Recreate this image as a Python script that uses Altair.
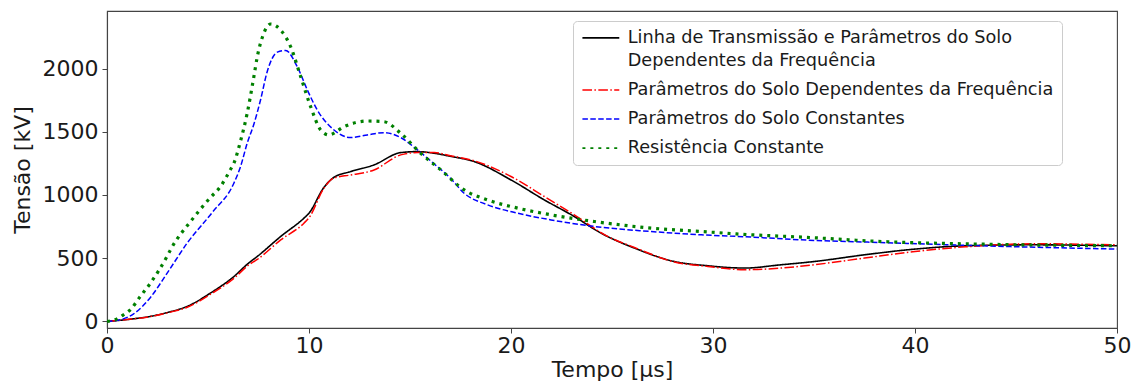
import altair as alt
import pandas as pd

S_BLACK = "Linha de Transmissão e Parâmetros do Solo Dependentes da Frequência"
S_RED = "Parâmetros do Solo Dependentes da Frequência"
S_BLUE = "Parâmetros do Solo Constantes"
S_GREEN = "Resistência Constante"

black_x = [0, 1, 2.15, 3.1, 3.97, 5.12, 6.28, 7.0, 7.44, 8.6, 9.75, 10.0, 10.74, 11.24, 12.06, 13.22, 14.54, 15.37, 16.2, 17.0, 18.18, 20.0, 21.65, 23.13, 24.46, 26.11, 28.09, 29.75, 31.56, 33.37, 35.03, 37.51, 39.99, 42.47, 45.78, 50]
black_y = [0, 15, 40, 75, 119, 224, 355, 460, 514, 672, 817, 856, 1060, 1140, 1185, 1238, 1335, 1343, 1330, 1306, 1264, 1119, 961, 830, 698, 580, 474, 440, 422, 448, 474, 527, 572, 598, 606, 598]

red_x = [0, 1, 2.15, 3.1, 3.97, 5.12, 6.28, 7.0, 7.44, 8.6, 9.75, 10.0, 10.74, 11.24, 12.06, 13.22, 14.54, 15.37, 16.2, 17.0, 18.18, 20.0, 21.65, 23.13, 24.79, 26.11, 28.09, 29.75, 31.56, 33.37, 35.0, 37.5, 40.0, 42.5, 45.8, 50]
red_y = [0, 15, 38, 72, 112, 215, 340, 445, 490, 645, 777, 820, 1054, 1135, 1158, 1198, 1317, 1335, 1335, 1310, 1270, 1146, 988, 843, 672, 585, 470, 435, 409, 422, 448, 501, 553, 590, 614, 606]

blue_x = [0, 0.7, 1.32, 2.15, 2.97, 3.97, 5.2, 6.28, 6.61, 6.94, 7.27, 7.6, 7.93, 8.43, 8.84, 9.42, 9.92, 10.41, 11.24, 12.06, 12.89, 13.71, 14.54, 15.37, 16.2, 17.0, 17.68, 18.84, 20.33, 21.98, 24.13, 26.94, 29.42, 31.9, 34.38, 38.3, 43.3, 50]
blue_y = [0, 15, 60, 190, 380, 620, 860, 1093, 1224, 1409, 1560, 1751, 1975, 2130, 2143, 2014, 1830, 1672, 1514, 1454, 1475, 1493, 1454, 1356, 1245, 1133, 1014, 922, 856, 803, 751, 711, 685, 667, 645, 624, 598, 572]

green_x = [0, 0.5, 0.82, 1.15, 1.65, 2.15, 2.97, 3.14, 4.2, 5.12, 5.62, 6.1, 6.28, 6.6, 6.94, 7.27, 7.44, 7.76, 8.1, 8.6, 9.09, 9.59, 10.08, 10.58, 10.99, 11.73, 12.89, 13.7, 14.54, 15.53, 16.53, 17.68, 18.84, 20.33, 21.98, 24.13, 26.94, 29.42, 31.9, 34.38, 38.34, 43.3, 50]
green_y = [0, 20, 53, 92, 198, 303, 514, 566, 803, 980, 1067, 1198, 1251, 1420, 1646, 1935, 2093, 2278, 2352, 2304, 2173, 1935, 1699, 1514, 1475, 1540, 1585, 1580, 1488, 1330, 1198, 1040, 961, 896, 843, 790, 738, 711, 685, 667, 632, 611, 598]

series = [
    (S_BLACK, black_x, black_y),
    (S_RED, red_x, red_y),
    (S_BLUE, blue_x, blue_y),
    (S_GREEN, green_x, green_y),
]
rows = []
for name, xs, ys in series:
    for x, y in zip(xs, ys):
        rows.append({"serie": name, "t": x, "v": y})
df = pd.DataFrame(rows)

order = [S_BLACK, S_RED, S_BLUE, S_GREEN]
colors = ["#000000", "#ff0000", "#0000ff", "#008000"]
dashes = [[1, 0], [9.6, 2.4, 1.5, 2.4], [5.5, 2.4], [3, 4.95]]
widths = [1.6, 1.5, 1.5, 3.2]

label_expr = (
    "datum.label == '" + S_BLACK + "' ? "
    "['Linha de Transmissão e Parâmetros do Solo', 'Dependentes da Frequência'] : datum.label"
)

legend = alt.Legend(
    title=None,
    orient="none",
    legendX=466,
    legendY=10,
    padding=8,
    strokeColor="#cccccc",
    fillColor="rgba(255,255,255,0.85)",
    cornerRadius=4,
    labelFont="DejaVu Sans",
    labelFontSize=17.7,
    labelColor="#1a1a1a",
    labelLimit=700,
    labelOffset=18,
    symbolType="M-3,0H3",
    symbolSize=151,
    symbolOffset=11,
    symbolStrokeWidth=1.6,
    rowPadding=10.1,
    labelExpr=label_expr,
)

enc = dict(
    x=alt.X("t:Q", scale=alt.Scale(domain=[0, 50], nice=False, zero=False),
            axis=alt.Axis(values=[0, 10, 20, 30, 40, 50], title="Tempo [µs]", format="d",
                          labelFlush=False)),
    y=alt.Y("v:Q", scale=alt.Scale(domain=[-52, 2455], nice=False, zero=False),
            axis=alt.Axis(values=[0, 500, 1000, 1500, 2000], title="Tensão [kV]", format="d",
                          labelFlush=False)),
    color=alt.Color("serie:N", scale=alt.Scale(domain=order, range=colors), legend=legend),
    strokeDash=alt.StrokeDash("serie:N", scale=alt.Scale(domain=order, range=dashes), legend=legend),
)

layers = []
for name, w in zip(order, widths):
    layers.append(
        alt.Chart(df)
        .transform_filter(alt.datum.serie == name)
        .mark_line(interpolate="monotone", clip=True, strokeWidth=w)
        .encode(**enc)
    )

chart = (
    alt.layer(*layers)
    .properties(
        width=1010,
        height=317,
        autosize=alt.AutoSizeParams(type="none"),
        padding={"left": 99, "top": 3, "right": 15, "bottom": 58},
    )
    .configure(style={"guide-label": {"lineHeight": 23.3}})
    .configure_view(stroke="#444444", strokeWidth=1.1)
    .configure_axis(
        labelFont="DejaVu Sans",
        labelFontSize=22,
        labelColor="#1a1a1a",
        titleFont="DejaVu Sans",
        titleFontSize=22,
        titleFontWeight="normal",
        titleColor="#1a1a1a",
        domainColor="#444444",
        domainWidth=1.1,
        tickColor="#444444",
        tickSize=5,
        grid=False,
    )
    .configure_axisY(labelPadding=4, titlePadding=8)
    .configure_axisX(labelPadding=2, titlePadding=3)
)

chart.save("out.html", embed_options={"renderer": "svg", "actions": False})
